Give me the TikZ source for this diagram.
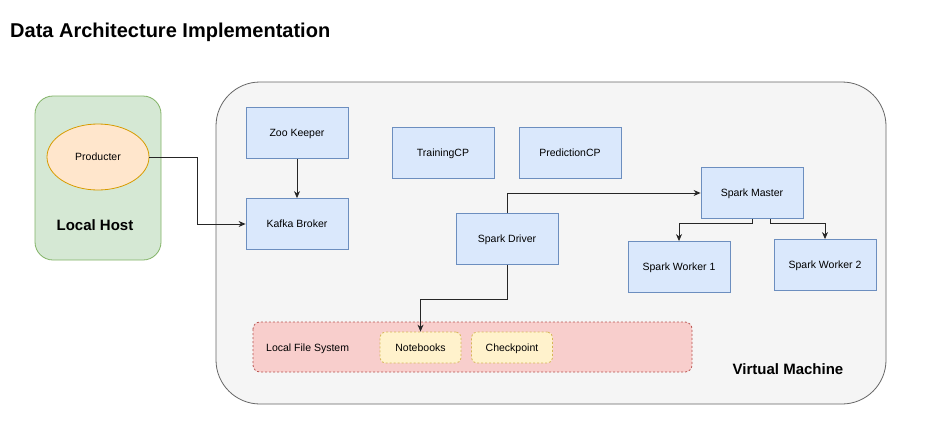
\documentclass[tikz,border=0pt]{standalone}
\usepackage{fontspec}
\setmainfont{Liberation Sans}
\usetikzlibrary{arrows.meta,shapes.geometric}
\definecolor{bluefill}{HTML}{DAE8FC}
\definecolor{bluestroke}{HTML}{6C8EBF}
\definecolor{greenfill}{HTML}{D5E8D4}
\definecolor{greenstroke}{HTML}{82B366}
\definecolor{orangefill}{HTML}{FFE6CC}
\definecolor{orangestroke}{HTML}{D79B00}
\definecolor{grayfill}{HTML}{F5F5F5}
\definecolor{graystroke}{HTML}{666666}
\definecolor{redfill}{HTML}{F8CECC}
\definecolor{redstroke}{HTML}{B85450}
\definecolor{yellowfill}{HTML}{FFF2CC}
\definecolor{yellowstroke}{HTML}{D6B656}
\tikzset{
  txt/.style={font=\fontsize{10.5}{12}\selectfont, text height=7.8pt, text depth=0pt},
  box/.style={txt, draw=bluestroke, fill=bluefill, line width=0.8pt, minimum width=102pt, minimum height=51pt, inner sep=0pt},
  smallbox/.style={txt, draw=yellowstroke, fill=yellowfill, dashed, dash pattern=on 2pt off 2pt, line width=0.8pt, rounded corners=5pt, minimum width=81pt, minimum height=31pt, inner sep=0pt},
  conn/.style={draw=black!85, line width=0.9pt, -{Stealth[length=7pt,width=6pt]}},
  lbl/.style={txt, inner sep=0pt},
  biglbl/.style={font=\fontsize{15}{18}\selectfont\bfseries, inner sep=0pt},
}
\begin{document}
\begin{tikzpicture}[x=1pt,y=-1pt]
\useasboundingbox (0,0) rectangle (928,434);
\fill[white] (0,0) rectangle (928,434);
% title
\node[anchor=west, inner sep=0pt, font=\fontsize{20}{24}\selectfont\bfseries, text height=14.5pt, text depth=0pt] (title) at (10,30) {Data Architecture Implementation};
% local host
\draw[draw=greenstroke, fill=greenfill, line width=0.8pt, rounded corners=18pt] (35,96) rectangle (161,260);
\node[txt, draw=orangestroke, fill=orangefill, line width=0.8pt, ellipse, minimum width=102pt, minimum height=66pt, inner sep=0pt] (prod) at (98,157) {Producter};
\node[biglbl] (lh) at (95,225) {Local Host};
% virtual machine
\draw[draw=graystroke, fill=grayfill, line width=0.8pt, rounded corners=44pt] (216,82) rectangle (886,404);
\node[biglbl] (vm) at (788,369) {Virtual Machine};
% nodes
\node[box] (zoo) at (297,133) {Zoo Keeper};
\node[box] (kafka) at (297,224) {Kafka Broker};
\node[box] (train) at (443,153) {TrainingCP};
\node[box] (pred) at (570,153) {PredictionCP};
\node[box] (master) at (752,193) {Spark Master};
\node[box] (driver) at (507,239) {Spark Driver};
\node[box] (w1) at (679,267) {Spark Worker 1};
\node[box] (w2) at (825,265) {Spark Worker 2};
% local file system
\draw[draw=redstroke, fill=redfill, dashed, dash pattern=on 2pt off 2pt, line width=0.8pt, rounded corners=7pt] (253,322) rectangle (692,372);
\node[lbl, anchor=west] (lfs) at (266,348) {Local File System};
\node[smallbox] (nb) at (420.5,347.5) {Notebooks};
\node[smallbox] (cp) at (512,347.5) {Checkpoint};
% connectors
\coordinate (pk) at (197,157);
\draw[conn] (prod.east) -- (pk) |- (kafka.west);
\draw[conn] (zoo) -- (kafka);
\draw[conn] (driver.north) |- (master.west);
\coordinate (m1) at (752,223);
\coordinate (m2) at (770,223);
\draw[conn] (master.south) -- (m1) -| (w1.north);
\draw[conn] (master.south -| m2) -- (m2) -| (w2.north);
\coordinate (dn) at (507,299);
\draw[conn] (driver.south) -- (dn) -| (nb.north);
\end{tikzpicture}
\end{document}
